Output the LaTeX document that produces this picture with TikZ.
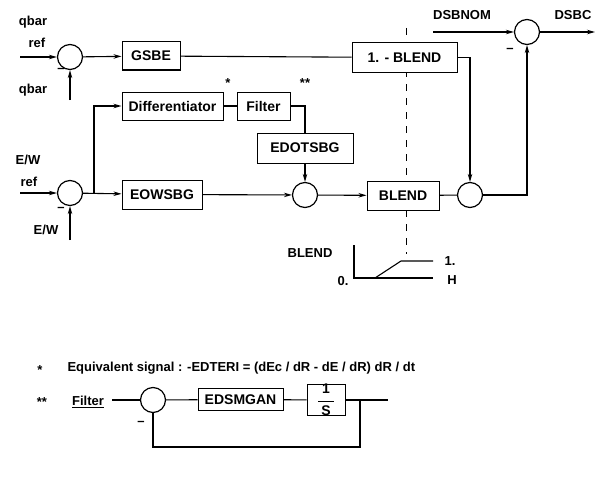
\documentclass[tikz,border=0pt]{standalone}
\usepackage{fontspec}
\setmainfont{Liberation Sans}
\usetikzlibrary{arrows.meta}

\begin{document}
\begin{tikzpicture}[x=1pt,y=-1pt,>={Stealth[length=8pt,width=4.5pt]},line width=1.1pt,
                    block/.style={draw,fill=white,rectangle,inner sep=0pt,line width=1pt,font=\fontsize{14}{16}\selectfont\bfseries},
                    sum/.style={draw,circle,minimum size=25pt,inner sep=0pt,line width=1.2pt},
                    lbl/.style={font=\fontsize{13}{15}\selectfont\bfseries,inner sep=1pt}]
  \useasboundingbox (0,0) rectangle (602,487);
  % dashed separation line (behind the blocks)
  \draw[dash pattern=on 7pt off 7pt,line width=0.9pt] (406,28) -- (406,254);

  % upper loop
  \node[sum] (sumq) at (70,57) {};
  \node[block,minimum width=58pt,minimum height=28pt] (gsbe) at (151,56) {GSBE};
  \node[block,minimum width=105pt,minimum height=29pt] (mblend) at (404.5,57.5) {1. - BLEND};
  \node[sum] (sumd) at (527,32) {};
  \node[block,minimum width=101pt,minimum height=28pt] (diff) at (172.5,106) {Differentiator};
  \node[block,minimum width=53pt,minimum height=28pt] (filt) at (263.5,106) {Filter};
  \node[block,minimum width=96pt,minimum height=30pt] (edot) at (305,148) {EDOTSBG};
  \node[sum] (sume) at (70,193) {};
  \node[block,minimum width=80pt,minimum height=29pt] (eows) at (162,194.5) {EOWSBG};
  \node[sum] (sumb) at (305,195) {};
  \node[block,minimum width=72pt,minimum height=29pt] (blend) at (403,195.5) {BLEND};
  \node[sum] (sumo) at (470,195) {};

  \coordinate (qin) at (20,57);
  \coordinate (qfb) at (70,100);
  \coordinate (ein) at (20,193);
  \coordinate (efb) at (70,240);
  \coordinate (branch) at (94,193);
  \coordinate (dsin) at (433,32);
  \coordinate (dsout) at (595,32);

  \draw[->] (qin) -- (sumq);
  \draw[->] (qfb) -- (sumq);
  \draw[->] (sumq) -- (gsbe);
  \draw (gsbe) -- (mblend);
  \draw[->] (mblend.east) -| (sumo.north);
  \draw[->] (sumo.east) -| (sumd.south);
  \draw[->] (dsin) -- (sumd);
  \draw[->] (sumd) -- (dsout);
  \draw[->] (ein) -- (sume);
  \draw[->] (efb) -- (sume);
  \draw[->] (sume) -- (eows);
  \draw[->] (branch) |- (diff.west);
  \draw (diff) -- (filt);
  \draw (filt.east) -| (edot.north);
  \draw[->] (edot) -- (sumb);
  \draw[->] (eows) -- (sumb);
  \draw[->] (sumb) -- (blend);
  \draw (blend) -- (sumo);

  \node[lbl] (qlab) at (33,22) {qbar};
  \node[lbl] (qref) at (37,43) {ref};
  \node[lbl] (qlab2) at (33,90) {qbar};
  \node[lbl] (qneg) at (61,70) {–};
  \node[lbl] (elab) at (28,160) {E/W};
  \node[lbl] (eref) at (29,182) {ref};
  \node[lbl] (elab2) at (46,230) {E/W};
  \node[lbl] (eneg) at (61,209) {–};
  \node[lbl] (dslab) at (462,15) {DSBNOM};
  \node[lbl] (dsclab) at (573,15) {DSBC};
  \node[lbl] (dsneg) at (510,50) {–};
  \node[lbl] (star1) at (228,83) {*};
  \node[lbl] (star2) at (305,83) {**};

  % blend schedule
  \draw (354,245) -- (354,278) -- (433,278);
  \draw (375,278) -- (401,261) -- (433,261);
  \node[lbl] (blab) at (310,253) {BLEND};
  \node[lbl] (bone) at (450,261) {1.};
  \node[lbl] (bzero) at (343,281) {0.};
  \node[lbl] (bh) at (452,280) {H};

  % footnotes
  \node[lbl] (note1) at (40,370) {*};
  \node[lbl,anchor=west] (eqtext) at (66,368) {Equivalent signal :  -EDTERI = (dEc / dR - dE / dR) dR / dt};
  \node[lbl] (note2) at (42,402) {**};
  \node[lbl] (flab) at (88,402) {\underline{Filter}};

  % filter loop
  \node[sum] (sumf) at (153,400) {};
  \node[block,minimum width=85pt,minimum height=22pt] (edsm) at (240.5,399.5) {EDSMGAN};
  \node[block,minimum width=38pt,minimum height=30pt,align=center] (ones) at (326,400)
    {1\\[-5pt]\rule[3pt]{16pt}{0.8pt}\\[-5pt]S};
  \coordinate (fin) at (112,400);
  \coordinate (fbr) at (360,400);
  \coordinate (fout) at (388,400);
  \coordinate (floop) at (360,447);
  \draw (fin) -- (sumf);
  \draw (sumf) -- (edsm);
  \draw (edsm) -- (ones);
  \draw (ones) -- (fout);
  \draw (fbr) -- (floop) -| (sumf.south);
  \node[lbl] (fneg) at (141,423) {–};
\end{tikzpicture}
\end{document}
